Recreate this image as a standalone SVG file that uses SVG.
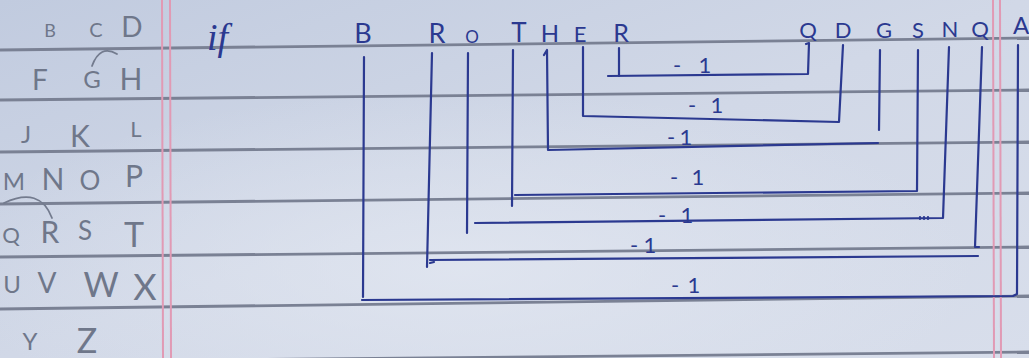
<svg xmlns="http://www.w3.org/2000/svg" width="1029" height="358" viewBox="0 0 1029 358">
  <defs>
    <linearGradient id="paper" x1="0" y1="0" x2="1" y2="1">
      <stop offset="0" stop-color="#c1cbdf"/>
      <stop offset="0.5" stop-color="#d1d8e7"/>
      <stop offset="1" stop-color="#d8deeb"/>
    </linearGradient>
    <radialGradient id="glow" cx="0.45" cy="0.75" r="0.5">
      <stop offset="0" stop-color="#e2e7f1" stop-opacity="0.8"/>
      <stop offset="1" stop-color="#e2e7f1" stop-opacity="0"/>
    </radialGradient>
    <style>
      .rule { stroke: #7a8194; stroke-width: 2.8; fill: none; }
      .margin { stroke: #e19ab4; stroke-width: 2; fill: none; }
      .pen { stroke: #2b3990; stroke-width: 2.2; fill: none; stroke-linecap: round; stroke-linejoin: round; }
      .pencil { stroke: #737b8e; stroke-width: 1.8; fill: none; stroke-linecap: round; }
      .lt { font-family: Lato, "Open Sans", "DejaVu Sans", sans-serif; font-weight: 400; fill: #6f778a; text-anchor: middle; }
      .mt { font-family: Lato, "Open Sans", "DejaVu Sans", sans-serif; font-weight: 400; fill: #2b3990; text-anchor: middle; }
      .lab { font-family: Lato, "Open Sans", "DejaVu Sans", sans-serif; font-weight: 400; fill: #2b3990; font-size: 22px; text-anchor: middle; }
    </style>
  </defs>

  <!-- paper -->
  <rect width="1029" height="358" fill="url(#paper)"/>
  <rect width="1029" height="358" fill="url(#glow)"/>

  <!-- ruled lines -->
  <g id="rules">
    <path class="rule" d="M0,50 L1029,38"/>
    <path class="rule" d="M0,100 L1029,90"/>
    <path class="rule" d="M0,152 L1029,142"/>
    <path class="rule" d="M0,204 L1029,193"/>
    <path class="rule" d="M0,257 L1029,247"/>
    <path class="rule" d="M0,309 L1029,296"/>
    <path class="rule" d="M0,362 L1029,352"/>
  </g>

  <!-- margins -->
  <g id="margins">
    <path class="margin" d="M162,0 L163,358"/>
    <path class="margin" d="M170,0 L171,358"/>
    <path class="margin" d="M993,0 L994,358"/>
    <path class="margin" d="M1000,0 L1001,358"/>
  </g>

  <!-- pencil alphabet on the left -->
  <g id="alphabet">
    <text class="lt" x="50" y="37" font-size="18">B</text>
    <text class="lt" x="96" y="37" font-size="20">C</text>
    <text class="lt" x="132" y="37" font-size="28">D</text>
    <text class="lt" x="40" y="90" font-size="28">F</text>
    <text class="lt" x="92" y="88" font-size="24">G</text>
    <text class="lt" x="131" y="90" font-size="30">H</text>
    <text class="lt" x="26" y="143" font-size="24">J</text>
    <text class="lt" x="80" y="147" font-size="30">K</text>
    <text class="lt" x="136" y="137" font-size="22">L</text>
    <text class="lt" x="14" y="190" font-size="24">M</text>
    <text class="lt" x="53" y="190" font-size="30">N</text>
    <text class="lt" x="90" y="190" font-size="26">O</text>
    <text class="lt" x="134" y="187" font-size="30">P</text>
    <text class="lt" x="11" y="243" font-size="22">Q</text>
    <text class="lt" x="50" y="243" font-size="30">R</text>
    <text class="lt" x="85" y="240" font-size="26">S</text>
    <text class="lt" x="134" y="247" font-size="34">T</text>
    <text class="lt" x="12" y="293" font-size="24">U</text>
    <text class="lt" x="47" y="293" font-size="28">V</text>
    <text class="lt" x="101" y="297" font-size="34">W</text>
    <text class="lt" x="145" y="300" font-size="36">X</text>
    <text class="lt" x="30" y="350" font-size="24">Y</text>
    <text class="lt" x="87" y="353" font-size="34">Z</text>
    <path class="pencil" d="M92,66 Q100,44 117,54"/>
    <path class="pencil" d="M4,203 Q40,186 52,218"/>
  </g>

  <!-- if -->
  <g id="if">
    <text x="207" y="50" font-family="Liberation Serif, serif" font-style="italic" font-size="38" fill="#2b3990">if</text>
  </g>

  <!-- top word letters -->
  <g id="word">
    <g id="n-B"><text class="mt" x="363" y="43" font-size="27">B</text></g>
    <g id="n-R1"><text class="mt" x="437" y="43" font-size="27">R</text></g>
    <g id="n-O"><text class="mt" x="472" y="43" font-size="17">O</text></g>
    <g id="n-T"><text class="mt" x="519" y="42" font-size="26">T</text></g>
    <g id="n-H"><text class="mt" x="550" y="42" font-size="24">H</text></g>
    <g id="n-E"><text class="mt" x="580" y="42" font-size="22">E</text></g>
    <g id="n-R2"><text class="mt" x="621" y="42" font-size="25">R</text></g>
  </g>
  <g id="code">
    <g id="n-Q1"><text class="mt" x="808" y="38" font-size="22">Q</text></g>
    <g id="n-D"><text class="mt" x="843" y="38" font-size="22">D</text></g>
    <g id="n-G"><text class="mt" x="884" y="38" font-size="22">G</text></g>
    <g id="n-S"><text class="mt" x="918" y="38" font-size="22">S</text></g>
    <g id="n-N"><text class="mt" x="950" y="37" font-size="22">N</text></g>
    <g id="n-Q2"><text class="mt" x="980" y="37" font-size="22">Q</text></g>
    <g id="n-A"><text class="mt" x="1021" y="34" font-size="24">A</text></g>
  </g>

  <!-- connectors -->
  <g id="connectors">
    <!-- R - Q -->
    <path class="pen" d="M619,48 L619,76"/>
    <path class="pen" d="M608,76 L808,74 L809,43 L806,44"/>
    <!-- E - D -->
    <path class="pen" d="M583,47 L583,116 L839,122 L843,45"/>
    <!-- H - G -->
    <path class="pen" d="M544,55 L547,50 L548,150 L878,143"/>
    <path class="pen" d="M880,50 L879,130"/>
    <!-- T - S -->
    <path class="pen" d="M513,50 L512,206"/>
    <path class="pen" d="M515,195 L917,191 L918,50"/>
    <!-- O - N -->
    <path class="pen" d="M468,53 L467,233"/>
    <path class="pen" d="M475,223 L943,218 L949,47"/>
    <path class="pen" d="M920,219 l0,-2 M924,219 l0,-2 M928,219 l0,-2"/>
    <!-- R - Q -->
    <path class="pen" d="M432,53 L427,267"/>
    <path class="pen" d="M430,260 L978,256"/>
    <path class="pen" d="M430,263 l4,-1"/>
    <path class="pen" d="M982,47 L975,247 L979,247"/>
    <!-- B - A -->
    <path class="pen" d="M364,57 L363,297"/>
    <path class="pen" d="M362,300 L1013,296 L1017,294 L1018,45"/>
  </g>

  <!-- -1 labels -->
  <g id="labels">
    <text class="lab" y="73"><tspan x="677">-</tspan><tspan x="705">1</tspan></text>
    <text class="lab" y="113"><tspan x="692">-</tspan><tspan x="717">1</tspan></text>
    <text class="lab" y="145"><tspan x="671">-</tspan><tspan x="686">1</tspan></text>
    <text class="lab" y="185"><tspan x="674">-</tspan><tspan x="698">1</tspan></text>
    <text class="lab" y="223"><tspan x="662">-</tspan><tspan x="687">1</tspan></text>
    <text class="lab" y="253"><tspan x="634">-</tspan><tspan x="650">1</tspan></text>
    <text class="lab" y="293"><tspan x="675">-</tspan><tspan x="694">1</tspan></text>
  </g>
</svg>
